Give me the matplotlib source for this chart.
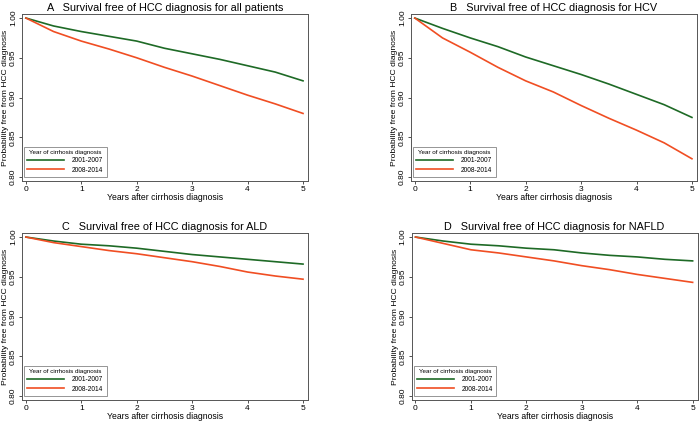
import matplotlib
matplotlib.use("Agg")
import matplotlib.pyplot as plt

plt.rcParams['font.family'] = ['Liberation Sans', 'DejaVu Sans']

# years after diagnosis where values were read
years = [0, 0.5, 1, 1.5, 2, 2.5, 3, 3.5, 4, 4.5, 5]

# survival free of HCC, cohort 2001-2007 (green) and 2008-2014 (red)
all_early = [1.0, 0.990, 0.983, 0.977, 0.971, 0.962, 0.955, 0.948, 0.940, 0.932, 0.921]
all_late = [1.0, 0.983, 0.971, 0.961, 0.950, 0.938, 0.927, 0.915, 0.903, 0.892, 0.880]

hcv_early = [1.0, 0.987, 0.975, 0.964, 0.951, 0.940, 0.929, 0.917, 0.904, 0.891, 0.875]
hcv_late = [1.0, 0.975, 0.957, 0.938, 0.921, 0.907, 0.890, 0.874, 0.859, 0.843, 0.823]

ald_early = [1.0, 0.995, 0.991, 0.989, 0.986, 0.982, 0.978, 0.975, 0.972, 0.969, 0.966]
ald_late = [1.0, 0.993, 0.988, 0.983, 0.979, 0.974, 0.969, 0.963, 0.956, 0.951, 0.947]

nafld_early = [1.0, 0.995, 0.991, 0.989, 0.986, 0.984, 0.980, 0.977, 0.975, 0.972, 0.970]
nafld_late = [1.0, 0.992, 0.984, 0.980, 0.975, 0.970, 0.964, 0.959, 0.953, 0.948, 0.943]

letters = ["A", "B", "C", "D"]
groups = ["all patients", "HCV", "ALD", "NAFLD"]
series = [(all_early, all_late), (hcv_early, hcv_late),
          (ald_early, ald_late), (nafld_early, nafld_late)]
cohorts = ["2001-2007", "2008-2014"]
colors = ["#1e6a26", "#f04e23"]

yticks = [0.80, 0.85, 0.90, 0.95, 1.00]
xticks = [0, 1, 2, 3, 4, 5]

# axes boxes in figure fractions
boxes = [[0.0314, 0.571, 0.4086, 0.3957],
         [0.587, 0.571, 0.4086, 0.3957],
         [0.0314, 0.052, 0.4086, 0.3957],
         [0.588, 0.052, 0.4086, 0.3957]]

fig = plt.figure(figsize=(7, 4.22), dpi=100)

for box, letter, group, (early, late) in zip(boxes, letters, groups, series):
    ax = fig.add_axes(box)
    for vals, lab, col in zip((early, late), cohorts, colors):
        ax.plot(years, vals, color=col, lw=1.2, label=lab)
    ax.set_xlim(-0.07, 5.09)
    ax.set_ylim(0.795, 1.005)
    ax.set_xticks(xticks)
    ax.set_yticks(yticks)
    ax.set_yticklabels([f"{v:.2f}" for v in yticks], rotation=90, va='center')
    ax.tick_params(labelsize=6, length=2.5, width=0.6, pad=1, color='#333333')
    ax.set_xlabel("Years after cirrhosis diagnosis", fontsize=6.2, labelpad=0)
    ax.set_ylabel("Probability free from HCC diagnosis", fontsize=6.1, labelpad=0.5)
    for sp in ax.spines.values():
        sp.set_color('#555555')
        sp.set_linewidth(0.7)
    ax.set_title(f"{letter}   Survival free of HCC diagnosis for {group}",
                 fontsize=7.8, pad=2.5)
    leg = ax.legend(title="Year of cirrhosis diagnosis", loc='lower left',
                    bbox_to_anchor=(0.007, 0.024), borderaxespad=0,
                    fontsize=4.8, title_fontsize=4.5, fancybox=False,
                    edgecolor='#666666', handlelength=5.5, handletextpad=1.2,
                    labelspacing=0.35, borderpad=0.5)
    leg.get_frame().set_linewidth(0.6)

fig.savefig("out.png", dpi=100)
